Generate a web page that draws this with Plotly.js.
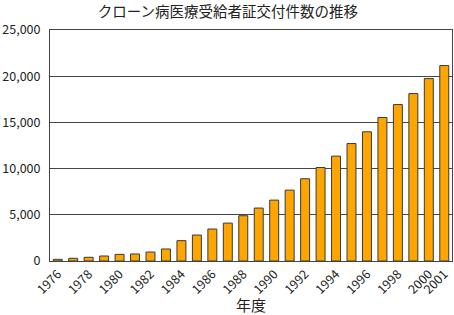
<!DOCTYPE html>
<html>
<head>
<meta charset="utf-8">
<script src="https://cdn.plot.ly/plotly-3.0.1.min.js"></script>
<style>html,body{margin:0;padding:0;background:#fff;}#chart{width:454px;height:315px;}</style>
</head>
<body>
<div id="chart"></div>
<script>
var years = ["1976","1977","1978","1979","1980","1981","1982","1983","1984","1985","1986","1987","1988","1989","1990","1991","1992","1993","1994","1995","1996","1997","1998","1999","2000","2001"];
var counts = [180,290,400,540,720,760,970,1300,2200,2810,3460,4100,4900,5730,6590,7670,8900,10120,11350,12710,13980,15530,16930,18120,19740,21150];
var tickYears = ["1976","1978","1980","1982","1984","1986","1988","1990","1992","1994","1996","1998","2000","2001"];
var yTicks = [0,5000,10000,15000,20000,25000];
var yTickText = ["0","5,000","10,000","15,000","20,000","25,000"];

var font = '"Noto Sans CJK JP", "Noto Sans", sans-serif';
Plotly.newPlot('chart', [{
  type: 'bar',
  x: years,
  y: counts,
  marker: {color: '#FFA500', line: {color: '#3a3a3a', width: 1}},
  hoverinfo: 'none'
}], {
  width: 454, height: 315,
  margin: {l: 50, r: 2, t: 30, b: 54, pad: 0},
  paper_bgcolor: '#fff', plot_bgcolor: '#fff',
  bargap: 0.42,
  showlegend: false,
  title: {text: 'クローン病医療受給者証交付件数の推移', x: 0.502, xanchor: 'center', y: 0.962, yanchor: 'middle', font: {family: font, size: 14.5, color: '#222'}},
  xaxis: {
    type: 'category',
    tickmode: 'array', tickvals: tickYears, ticktext: tickYears,
    tickangle: -45,
    tickfont: {family: font, size: 12.5, color: '#222'},
    showline: true, linecolor: '#444', linewidth: 1, mirror: true,
    ticks: '', showgrid: false,
    title: {text: '年度', font: {family: font, size: 15, color: '#222'}, standoff: 0}
  },
  yaxis: {
    range: [0, 25000],
    tickmode: 'array', tickvals: yTicks, ticktext: yTickText,
    tickfont: {family: font, size: 12.5, color: '#222'},
    showline: true, linecolor: '#444', linewidth: 1, mirror: true,
    showgrid: true, gridcolor: '#444', gridwidth: 1,
    ticks: 'outside', ticklen: 6, tickcolor: '#fff',
    zeroline: false
  }
}, {staticPlot: true});
</script>
</body>
</html>
